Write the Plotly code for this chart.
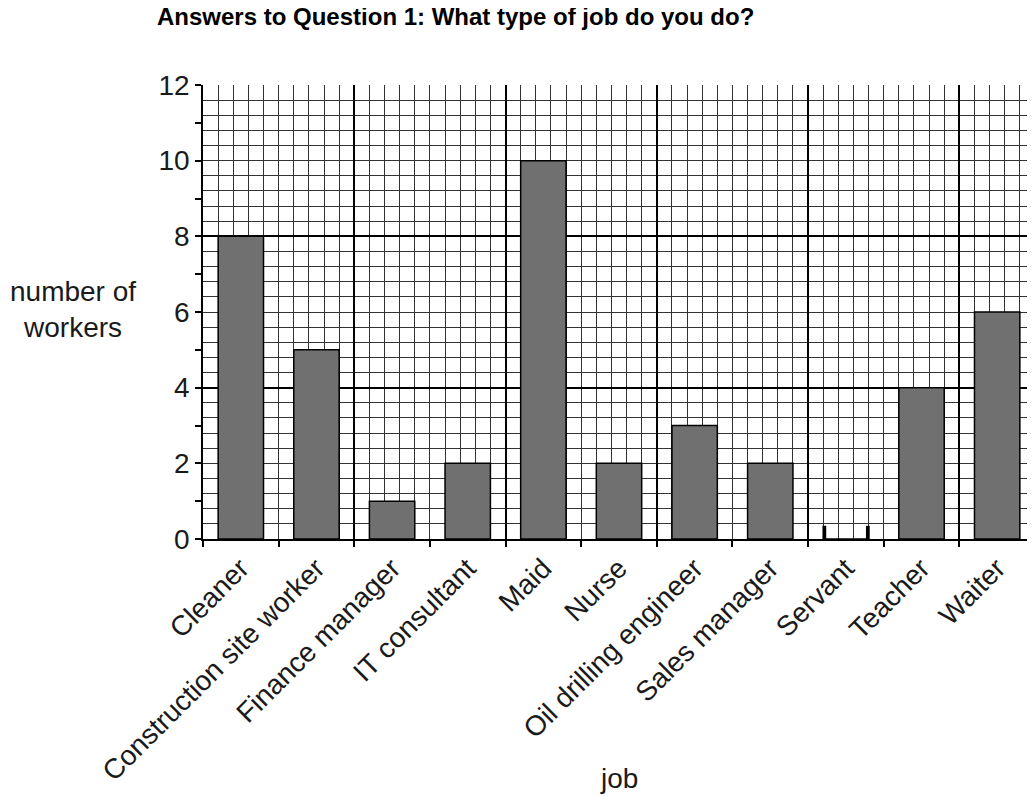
import plotly.graph_objects as go

jobs = ["Cleaner", "Construction site worker", "Finance manager", "IT consultant",
        "Maid", "Nurse", "Oil drilling engineer", "Sales manager", "Servant",
        "Teacher", "Waiter"]
workers = [8, 5, 1, 2, 10, 2, 3, 2, 0, 4, 6]
y_tick_vals = [0, 2, 4, 6, 8, 10, 12]
# tiny stubs drawn at the edges of the empty "Servant" bar in the original
servant_stub_job = ["Servant"]
servant_stub_height = [0.35]

FONT = "Liberation Sans, Arial, sans-serif"
OFF = 8  # page body margin in the browser
W, H = 1035 - OFF, 796 - OFF
ML, MR, MT, MB = 203 - OFF, 0, 85 - OFF, 257
pw = W - ML - MR
ph = H - MT - MB

fig = go.Figure()

# invisible trace on the grid axes so they get drawn
fig.add_trace(go.Scatter(x=[-0.5, 10.5], y=[0, 12], mode="markers",
                         marker=dict(opacity=0), hoverinfo="skip",
                         showlegend=False, xaxis="x", yaxis="y"))

fig.add_trace(go.Bar(x=jobs, y=workers, width=0.6,
                     marker=dict(color="#707070", line=dict(color="black", width=1.5)),
                     showlegend=False, xaxis="x2", yaxis="y2"))

for off in (-0.31, 0.265):
    fig.add_trace(go.Bar(x=servant_stub_job, y=servant_stub_height, width=0.05,
                         offset=off, marker=dict(color="black", line=dict(width=0)),
                         showlegend=False, xaxis="x2", yaxis="y2"))

fig.update_layout(
    width=W, height=H,
    margin=dict(l=ML, r=MR, t=MT, b=MB, autoexpand=False),
    paper_bgcolor="white", plot_bgcolor="white",
    barmode="overlay",
    font=dict(family=FONT, size=28, color="#1a1a1a"),
    title=dict(text="<b>Answers to Question 1: What type of job do you do?</b>",
               font=dict(family=FONT, size=24, color="black"),
               xref="container", yref="container",
               x=(157 - OFF) / W, xanchor="left", y=1 - (17 - OFF) / H,
               yanchor="middle"),
    xaxis=dict(type="linear", range=[-0.5, 10.5], tick0=-0.5, dtick=2,
               showgrid=True, gridcolor="black", gridwidth=2,
               showticklabels=False, ticks="", zeroline=False, showline=False,
               minor=dict(tick0=-0.5, dtick=0.2, showgrid=True,
                          gridcolor="#333333", gridwidth=1),
               fixedrange=True),
    yaxis=dict(range=[0, 12], tick0=0, dtick=4,
               showgrid=True, gridcolor="black", gridwidth=2,
               showticklabels=False, ticks="", zeroline=False, showline=False,
               minor=dict(tick0=0, dtick=0.4, showgrid=True,
                          gridcolor="#333333", gridwidth=1),
               fixedrange=True),
    xaxis2=dict(type="category", overlaying="x", anchor="y2", side="bottom",
                categoryorder="array", categoryarray=jobs, range=[-0.5, 10.5],
                tickson="boundaries", ticks="outside", ticklen=6,
                tickcolor="black", tickwidth=1.5,
                tickangle=-45, tickfont=dict(size=28, color="#1a1a1a"),
                showgrid=False, showline=True, linecolor="black", linewidth=1.5,
                zeroline=False, automargin=False),
    yaxis2=dict(overlaying="y", anchor="x2", side="left", range=[0, 12],
                tickmode="array", tickvals=y_tick_vals,
                ticks="outside", ticklen=6, tickcolor="black", tickwidth=1.5,
                tickfont=dict(size=28, color="#1a1a1a"),
                minor=dict(dtick=1, tick0=0, ticks="outside", ticklen=6,
                           tickcolor="black", tickwidth=1.5),
                showgrid=False, showline=True, linecolor="black", linewidth=1.5,
                zeroline=False, automargin=False),
    annotations=[
        dict(text="number of<br>workers", xref="paper", yref="paper",
             x=(73 - 203) / pw, y=(539 - 309) / ph, xanchor="center",
             yanchor="middle", showarrow=False,
             font=dict(family=FONT, size=28, color="#1a1a1a")),
        dict(text="job", xref="paper", yref="paper",
             x=0.5, y=-(778 - 539) / ph, xanchor="center", yanchor="middle",
             showarrow=False, font=dict(family=FONT, size=28, color="#1a1a1a")),
    ],
)

fig.write_html("out.html")
